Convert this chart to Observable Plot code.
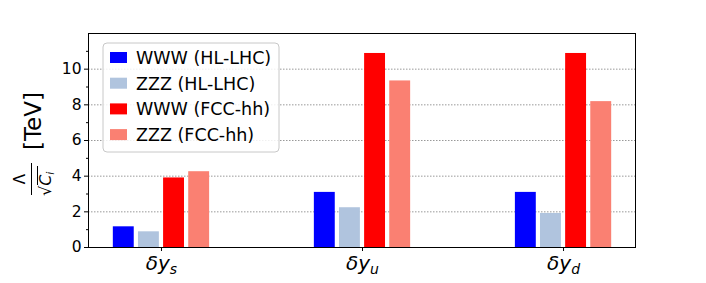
<!DOCTYPE html>
<html><head><meta charset="utf-8">
<script src="https://cdn.jsdelivr.net/npm/d3@7"></script>
<script src="https://cdn.jsdelivr.net/npm/@observablehq/plot@0.6"></script>
<style>
body{margin:0;background:#fff;}
#chart{width:706px;height:283px;}
svg{font-family:"DejaVu Sans",sans-serif;}
</style></head>
<body><div id="chart"></div>
<script>
const categories = ["δy", "δy", "δy"];
const subscripts = ["s", "u", "d"];
const series = ["WWW (HL-LHC)", "ZZZ (HL-LHC)", "WWW (FCC-hh)", "ZZZ (FCC-hh)"];
const colors = ["#0000ff", "#b0c4de", "#ff0000", "#fa8072"];
const wwwHL = [1.16, 3.09, 3.09];
const zzzHL = [0.88, 2.23, 1.91];
const wwwFCC = [3.90, 10.88, 10.88];
const zzzFCC = [4.25, 9.34, 8.18];
const values = [wwwHL, zzzHL, wwwFCC, zzzFCC];
const yMajor = [0, 2, 4, 6, 8, 10];
const yMinor = [1, 3, 5, 7, 9, 11];

const step = 0.125, barW = 0.104;
const data = categories.flatMap((c, i) => series.map((s, j) => ({i, j, s, v: values[j][i]})));

const plot = Plot.plot({
  width: 706, height: 283,
  marginLeft: 88, marginRight: 71, marginTop: 33, marginBottom: 36,
  style: {background: "white", color: "black", fontFamily: "DejaVu Sans, sans-serif"},
  x: {domain: [-0.363, 2.358]},
  y: {domain: [0, 12]},
  color: {domain: series, range: colors},
  marks: [
    Plot.gridY(yMajor.filter(d => d > 0), {stroke: "#999", strokeOpacity: 1, strokeDasharray: "1.5,1.5", strokeWidth: 1}),
    Plot.rectY(data, {
      x1: d => d.i + (d.j - 1.5) * step - barW / 2,
      x2: d => d.i + (d.j - 1.5) * step + barW / 2,
      y: "v", fill: "s"
    }),
    Plot.axisY({ticks: yMajor, tickSize: 4, tickPadding: 3, fontSize: 15.5, label: null}),
    Plot.axisY({ticks: yMinor, tickSize: 2, tickFormat: () => "", label: null}),
    Plot.axisX({ticks: [0, 1, 2], tickSize: 4, tickPadding: 4, fontSize: 20, tickFormat: i => categories[i] + subscripts[i], label: null}),
    Plot.frame({stroke: "black", strokeWidth: 1})
  ]
});
document.getElementById("chart").appendChild(plot);

const svg = d3.select(plot);
// subscript x tick labels
svg.selectAll('[aria-label="x-axis tick label"] text').each(function(d, k) {
  const t = d3.select(this);
  const i = k;
  t.text(null).attr("font-style", "italic");
  t.append("tspan").text(categories[i]);
  t.append("tspan").attr("font-size", 14).attr("dy", 4).text(subscripts[i]);
});

// legend
const lg = svg.append("g").attr("transform", "translate(103,43)").attr("text-anchor", "start");
lg.append("rect").attr("width", 176).attr("height", 109).attr("rx", 4)
  .attr("fill", "white").attr("fill-opacity", 0.85).attr("stroke", "#c8c8c8");
series.forEach((s, j) => {
  const y = 14.5 + j * 25.7;
  lg.append("rect").attr("x", 7).attr("y", y - 5.5).attr("width", 17).attr("height", 11).attr("fill", colors[j]);
  lg.append("text").attr("x", 33).attr("y", y).attr("dy", "0.36em").attr("font-size", 17.5).attr("fill", "black").text(s);
});

// y label
const yl = svg.append("g").attr("transform", "translate(0,142) rotate(-90)").attr("text-anchor", "start");
yl.append("text").attr("x", -8).attr("y", 41).attr("font-size", 23).attr("fill", "black").text("[TeV]");
yl.append("text").attr("x", -37).attr("y", 25).attr("text-anchor", "middle").attr("font-size", 15).attr("fill", "black").text("Λ");
yl.append("line").attr("x1", -53).attr("x2", -21).attr("y1", 31.5).attr("y2", 31.5).attr("stroke", "black").attr("stroke-width", 1);
const den = yl.append("text").attr("x", -54).attr("y", 51).attr("font-size", 16).attr("fill", "black");
den.append("tspan").text("√");
den.append("tspan").attr("font-style", "italic").text("C");
den.append("tspan").attr("font-style", "italic").attr("font-size", 11).attr("dy", 3).text("i");
yl.append("line").attr("x1", -43).attr("x2", -24).attr("y1", 37.5).attr("y2", 37.5).attr("stroke", "black").attr("stroke-width", 1);
</script>
</body></html>
